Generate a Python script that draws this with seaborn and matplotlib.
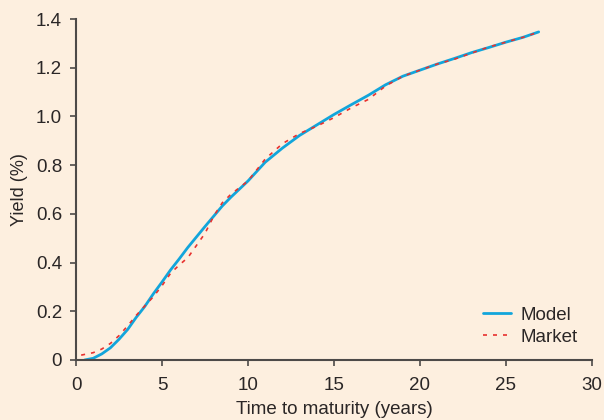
import numpy as np
import pandas as pd
import matplotlib
matplotlib.use("Agg")
import matplotlib.pyplot as plt
import seaborn as sns

model_t = [0.5, 1, 1.5, 2, 2.5, 3, 3.5, 4, 4.5, 5, 5.5, 6, 6.5, 7, 7.5, 8, 8.5, 9,
           10, 11, 12, 13, 14, 15, 16, 17, 18, 19, 20, 21, 22, 23, 24, 25, 26, 26.9]
model_y = [0.0, 0.007, 0.025, 0.05, 0.085, 0.125, 0.175, 0.22, 0.272, 0.32, 0.37,
           0.415, 0.462, 0.505, 0.548, 0.59, 0.632, 0.668, 0.735, 0.812, 0.87,
           0.922, 0.965, 1.008, 1.048, 1.087, 1.13, 1.165, 1.19, 1.215, 1.238,
           1.262, 1.283, 1.305, 1.325, 1.347]

market_t = [0.3, 1, 1.5, 2, 2.5, 3, 3.5, 4, 4.5, 5, 5.5, 6, 6.5, 7, 7.5, 8, 8.5, 9,
            10, 11, 12, 13, 14, 15, 16, 17, 18, 19, 20, 21, 22, 23, 24, 25, 26, 26.8]
market_y = [0.02, 0.03, 0.045, 0.068, 0.1, 0.14, 0.183, 0.222, 0.26, 0.305, 0.356,
            0.39, 0.42, 0.47, 0.52, 0.59, 0.645, 0.68, 0.735, 0.825, 0.888, 0.93,
            0.96, 0.995, 1.035, 1.07, 1.125, 1.165, 1.19, 1.215, 1.235, 1.26,
            1.285, 1.305, 1.325, 1.344]

x_ticks = [0, 5, 10, 15, 20, 25, 30]
y_ticks = [0, 0.2, 0.4, 0.6, 0.8, 1.0, 1.2, 1.4]
y_tick_labels = ["0", "0.2", "0.4", "0.6", "0.8", "1.0", "1.2", "1.4"]

bg = "#fdefdf"
dark = "#2a2626"
spine = "#4d4a48"

sns.set_style("ticks")
plt.rcParams["font.family"] = ["Liberation Sans", "DejaVu Sans"]

fig = plt.figure(figsize=(6.04, 4.2), dpi=100, facecolor=bg)
ax = fig.add_axes([76 / 604, 1 - 360 / 420, (592 - 76) / 604, (360 - 19) / 420])
ax.set_facecolor(bg)

df_model = pd.DataFrame({"t": model_t, "y": model_y})
df_market = pd.DataFrame({"t": market_t, "y": market_y})

sns.lineplot(data=df_model, x="t", y="y", ax=ax, color="#12a5db", lw=2.0,
             label="Model")
sns.lineplot(data=df_market, x="t", y="y", ax=ax, color="#e8312f", lw=1.2,
             label="Market", linestyle=(0, (2.4, 3.6)))

ax.set_xlim(0, 30)
ax.set_ylim(0, 1.4)
ax.set_xticks(x_ticks)
ax.set_xticklabels([str(v) for v in x_ticks])
ax.set_yticks(y_ticks)
ax.set_yticklabels(y_tick_labels)
ax.set_xlabel("Time to maturity (years)", fontsize=13.5, color=dark, labelpad=5)
ax.set_ylabel("Yield (%)", fontsize=13, color=dark, labelpad=6)
ax.tick_params(axis="both", labelsize=13.5, colors=spine, labelcolor=dark,
               length=4, width=1.2, direction="out", pad=6)
ax.tick_params(axis="x", pad=8)
for s in ["top", "right"]:
    ax.spines[s].set_visible(False)
for s in ["left", "bottom"]:
    ax.spines[s].set_color(spine)
    ax.spines[s].set_linewidth(1.5)

leg = ax.legend(loc="lower right", bbox_to_anchor=(1.004, -0.008), frameon=False,
                fontsize=13.5, handlelength=1.5, handletextpad=0.5,
                labelspacing=0.25, labelcolor=dark)

fig.savefig("out.png", dpi=100, facecolor=bg)
